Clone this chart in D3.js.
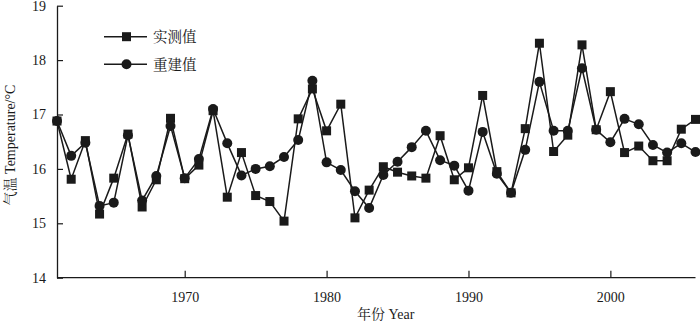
<!DOCTYPE html>
<html>
<head>
<meta charset="utf-8">
<script src="https://cdn.jsdelivr.net/npm/d3@7"></script>
<style>
  html, body { margin: 0; padding: 0; background: #fff; }
  svg { display: block; }
  text { font-family: "Liberation Serif", "Times New Roman", serif; fill: #1a1a1a; }
  .cjk { font-family: "Noto Serif CJK SC", "Noto Sans CJK SC", serif; }
</style>
</head>
<body>
<svg id="chart" width="700" height="323"></svg>
<script>
const years = d3.range(1961, 2007);
const measured = [16.88, 15.81, 16.52, 15.17, 15.83, 16.64, 15.30, 15.80, 16.93, 15.82,
  16.07, 17.07, 15.48, 16.30, 15.51, 15.40, 15.04, 16.92, 17.47, 16.70,
  17.19, 15.10, 15.61, 16.04, 15.94, 15.87, 15.83, 16.61, 15.80, 16.02,
  17.35, 15.95, 15.56, 16.74, 18.31, 16.32, 16.62, 18.28, 16.72, 17.42,
  16.30, 16.42, 16.15, 16.15, 16.73, 16.91];
const reconstructed = [16.88, 16.24, 16.48, 15.32, 15.38, 16.62, 15.42, 15.87, 16.79, 15.83,
  16.18, 17.10, 16.47, 15.88, 16.00, 16.05, 16.22, 16.53, 17.62, 16.12,
  15.98, 15.59, 15.28, 15.89, 16.13, 16.40, 16.70, 16.16, 16.06, 15.60,
  16.68, 15.91, 15.56, 16.35, 17.60, 16.70, 16.70, 17.85, 16.72, 16.49,
  16.92, 16.82, 16.44, 16.30, 16.47, 16.31];
const xTicks = [1970, 1980, 1990, 2000];
const yTicks = [14, 15, 16, 17, 18, 19];
const seriesNames = ["实测值", "重建值"];

const svg = d3.select("#chart");
const x = d3.scaleLinear().domain([1961, 2006]).range([57, 695.5]);
const y = d3.scaleLinear().domain([14, 19]).range([277.7, 5.7]);
const ink = "#1a1a1a";

// axes
const xAxis = d3.axisBottom(x).tickValues(xTicks).tickFormat(d3.format("d")).tickSizeInner(-7).tickSizeOuter(0).tickPadding(14);
const gx = svg.append("g").attr("transform", `translate(0,${y(14)})`).call(xAxis);
gx.select(".domain").attr("stroke", ink).attr("stroke-width", 1.3).attr("d", `M${x(1961)},0H${x(2006)}`);
gx.selectAll(".tick line").attr("stroke", ink).attr("stroke-width", 1.2);
gx.selectAll(".tick text").attr("font-size", 14).attr("fill", ink).attr("font-family", "Liberation Serif");

const yAxis = d3.axisLeft(y).tickValues(yTicks).tickFormat(d3.format("d")).tickSizeInner(-6).tickSizeOuter(0).tickPadding(11);
const gy = svg.append("g").attr("transform", `translate(${x(1961)},0)`).call(yAxis);
gy.select(".domain").attr("stroke", ink).attr("stroke-width", 1.3);
gy.selectAll(".tick line").attr("stroke", ink).attr("stroke-width", 1.2);
gy.selectAll(".tick text").attr("font-size", 14).attr("fill", ink).attr("font-family", "Liberation Serif");

// axis titles
const xt = svg.append("text").attr("x", 357).attr("y", 318.5).attr("font-size", 14);
xt.append("tspan").attr("class", "cjk").text("年份");
xt.append("tspan").text(" Year");

const yt = svg.append("text").attr("transform", "translate(15,145) rotate(-90)").attr("text-anchor", "middle").attr("font-size", 14);
yt.append("tspan").attr("class", "cjk").text("气温");
yt.append("tspan").text(" Temperature/°C");

// lines
const line = d3.line().x((d, i) => x(years[i])).y(d => y(d));
svg.append("path").datum(measured).attr("d", line).attr("fill", "none").attr("stroke", ink).attr("stroke-width", 1.5);
svg.append("path").datum(reconstructed).attr("d", line).attr("fill", "none").attr("stroke", ink).attr("stroke-width", 1.5);

const sq = 9;
svg.append("g").selectAll("rect").data(measured).join("rect")
  .attr("x", (d, i) => x(years[i]) - sq / 2).attr("y", d => y(d) - sq / 2)
  .attr("width", sq).attr("height", sq).attr("fill", ink);
svg.append("g").selectAll("circle").data(reconstructed).join("circle")
  .attr("cx", (d, i) => x(years[i])).attr("cy", d => y(d)).attr("r", 5).attr("fill", ink);

// legend
const lg = svg.append("g");
[36.7, 64.3].forEach((ly, k) => {
  lg.append("line").attr("x1", 104).attr("x2", 147).attr("y1", ly).attr("y2", ly).attr("stroke", ink).attr("stroke-width", 1.5);
  if (k === 0) lg.append("rect").attr("x", 126.5 - 4.5).attr("y", ly - 4.5).attr("width", 9).attr("height", 9).attr("fill", ink);
  else lg.append("circle").attr("cx", 126.5).attr("cy", ly).attr("r", 5).attr("fill", ink);
  lg.append("text").attr("class", "cjk").attr("x", 153).attr("y", ly + 5.5).attr("font-size", 14.5).text(seriesNames[k]);
});
</script>
</body>
</html>
